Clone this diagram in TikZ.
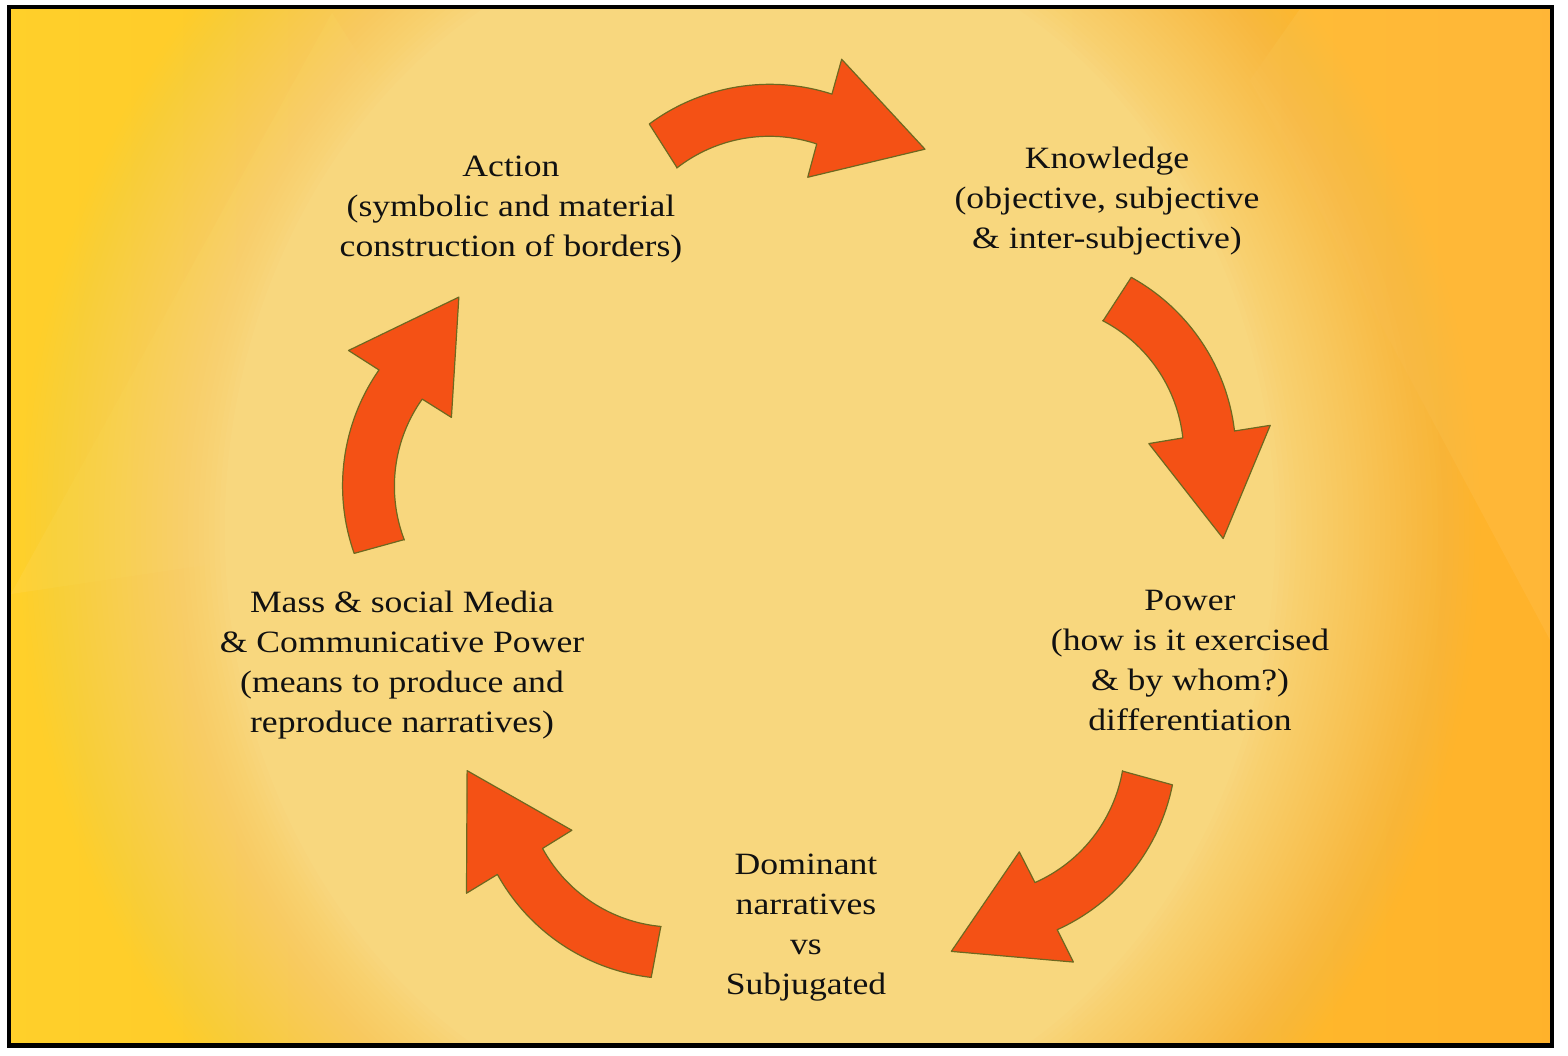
\documentclass[tikz,border=0pt]{standalone}
\usepackage{fontspec}
\setmainfont{Liberation Serif}[FakeStretch=1.15]
\usepackage{tikz}
\definecolor{bgyellow}{HTML}{FFD02A}
\definecolor{bgorange}{HTML}{FFB22B}
\definecolor{bgpale}{HTML}{F8D77E}
\definecolor{arrowfill}{HTML}{F45115}
\definecolor{arrowedge}{HTML}{6E6820}
\definecolor{textblack}{HTML}{111111}
\tikzset{
  x=1pt, y=1pt,
  cyclelabel/.style={align=center, inner sep=0pt, text=textblack, font=\fontsize{31}{40}\selectfont},
  arrowbody/.style={fill=arrowfill, draw=arrowedge, line width=1.2pt, line join=round},
  facet/.style={white, opacity=0.06},
  pics/cyclearrow/.style={code={
    \filldraw[arrowbody] (14,-21.1) -- (-14,21.8)
      arc[start angle=127.2, end angle=72.8, radius=202.5]
      -- (177.6,88.9) -- (262,0) -- (145.1,-29.5) -- (153.7,3.9)
      arc[start angle=72.3, end angle=128.6, radius=150.5] -- cycle;
  }},
}

\begin{document}
\begin{tikzpicture}
		\useasboundingbox (0,0) rectangle (1568,1056);

		% background
		\begin{scope}
			\clip (11,12) rectangle (1550,1047);
			\shade[left color=bgyellow, right color=bgorange] (0,0) rectangle (1568,1056);
			\fill[facet] (332,1043) -- (11,462) -- (640,556) -- cycle;
			\fill[facet] (1250,976) -- (1550,416) -- (1550,1047) -- (1300,1047) -- cycle;
			\foreach \i [evaluate=\i as \rx using 730-5.25*\i, evaluate=\i as \ry using 810-5.25*\i, evaluate=\i as \op using 1/(40-\i)] in {0,...,39}
				\fill[bgpale, opacity=\op] (750,526) ellipse [x radius=\rx, y radius=\ry];
		\end{scope}
		\draw[line width=4.5pt] (9,10.5) rectangle (1552,1049);

		% labels
		\node[cyclelabel] (action) at (511,846) {Action\\(symbolic and material\\construction of borders)};
		\node[cyclelabel] (knowledge) at (1107,855) {Knowledge\\(objective, subjective\\\& inter-subjective)};
		\node[cyclelabel] (power) at (1190,395) {Power\\(how is it exercised\\\& by whom?)\\differentiation};
		\node[cyclelabel] (narratives) at (806,128) {Dominant\\narratives\\vs\\Subjugated};
		\node[cyclelabel] (media) at (402,391) {Mass \& social Media\\\& Communicative Power\\(means to produce and\\reproduce narratives)};

		% arrows
		\coordinate (a1) at (663,910);
		\coordinate (a2) at (1117,757);
		\coordinate (a3) at (1147.5,278.2);
		\coordinate (a4) at (656.2,104);
		\coordinate (a5) at (379.2,509.3);
		\pic[rotate=-0.7] at (a1) {cyclearrow};
		\pic[rotate=-66.1] at (a2) {cyclearrow};
		\pic[rotate=-138.5] at (a3) {cyclearrow};
		\pic[rotate=136.2] at (a4) {cyclearrow};
		\pic[rotate=72.3] at (a5) {cyclearrow};

	\end{tikzpicture}
\end{document}
